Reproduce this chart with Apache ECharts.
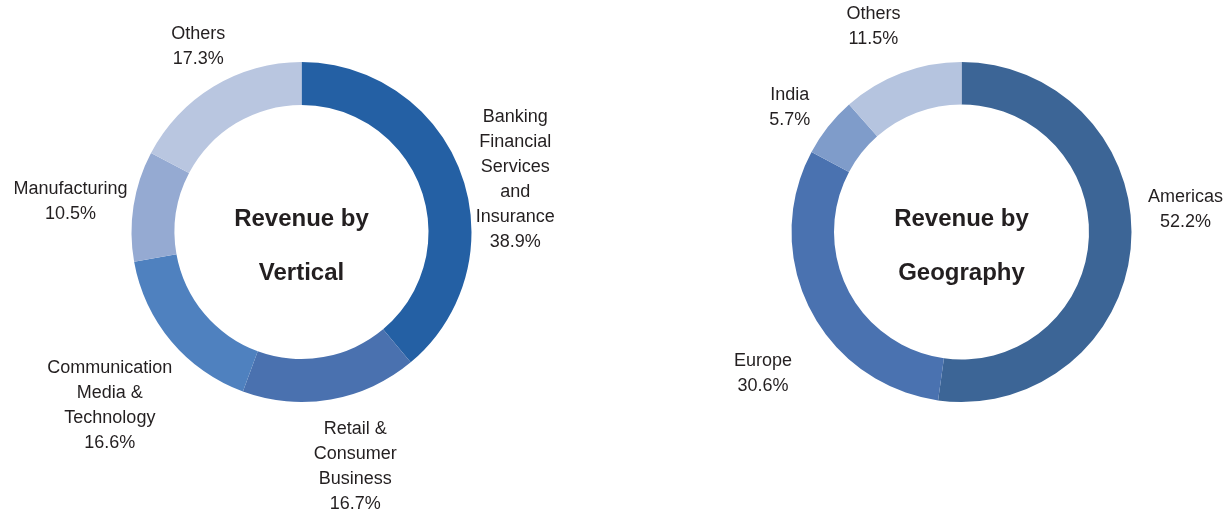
<!DOCTYPE html>
<html><head><meta charset="utf-8">
<script src="https://cdn.jsdelivr.net/npm/echarts@6/dist/echarts.min.js"></script>
<style>html,body{margin:0;padding:0;background:#fff}#c{width:1230px;height:513px}</style>
</head><body><div id="c"></div>
<script>
// ---- data ----
const verticalCategories = ['Banking\nFinancial\nServices\nand\nInsurance', 'Retail &\nConsumer\nBusiness', 'Communication\nMedia &\nTechnology', 'Manufacturing', 'Others'];
const verticalValues = [38.9, 16.7, 16.6, 10.5, 17.3];
const geographyCategories = ['Americas', 'Europe', 'India', 'Others'];
const geographyValues = [52.2, 30.6, 5.7, 11.5];
const centerTitles = ['Revenue by\nVertical', 'Revenue by\nGeography'];

// ---- styles ----
const verticalColors = ['#2460a4', '#4a71af', '#4f81bf', '#95aad2', '#b9c6e0'];
const geographyColors = ['#3c6596', '#4a72b0', '#7f9cca', '#b5c4df'];
const FONT = '"Liberation Sans", Arial, sans-serif';
const TEXT = '#231f20';
const pies = [
  { center: [301.5, 232], radius: [127, 170], gap: 10, nudge: [[5, 23.5], [14, 7], [6, 7.5], [4, 5.5], [5, -6.5]] },
  { center: [961.5, 232], radius: [127.5, 170], gap: 10, nudge: [[7, -37.5], [-9, 45], [-10, 3], [-15, -12.5]] }
];

function makeLayout(k) {
  const cfg = pies[k];
  return function (params) {
    const pts = params.labelLinePoints;
    if (!pts || !pts[0]) return {};
    const p = pts[0];
    const dx = p[0] - cfg.center[0], dy = p[1] - cfg.center[1];
    const len = Math.hypot(dx, dy) || 1;
    const ux = dx / len, uy = dy / len;
    const hw = params.labelRect.width / 2, hh = params.labelRect.height / 2;
    const ex = Math.abs(ux) > 1e-6 ? hw / Math.abs(ux) : Infinity;
    const ey = Math.abs(uy) > 1e-6 ? hh / Math.abs(uy) : Infinity;
    const ext = Math.min(ex, ey);
    const n = cfg.nudge[params.dataIndex] || [0, 0];
    return {
      x: p[0] + ux * (cfg.gap + ext) + n[0],
      y: p[1] + uy * (cfg.gap + ext) + n[1],
      align: 'center',
      verticalAlign: 'middle'
    };
  };
}

function makeSeries(k, cats, vals, colors) {
  return {
    type: 'pie',
    center: pies[k].center,
    radius: pies[k].radius,
    startAngle: 90,
    clockwise: true,
    avoidLabelOverlap: false,
    silent: true,
    data: cats.map((c, i) => ({ name: c, value: vals[i], itemStyle: { color: colors[i] } })),
    itemStyle: { borderWidth: 0 },
    label: {
      show: true,
      position: 'outside',
      formatter: '{b}\n{c}%',
      fontSize: 18,
      lineHeight: 25,
      color: TEXT,
      fontFamily: FONT,
      align: 'center'
    },
    labelLine: { show: true, length: 5, length2: 0, lineStyle: { opacity: 0, width: 0 } },
    labelLayout: makeLayout(k),
    emphasis: { disabled: true }
  };
}

const chart = echarts.init(document.getElementById('c'), null, { renderer: 'canvas' });
chart.setOption({
  animation: false,
  backgroundColor: '#ffffff',
  title: [0, 1].map(k => ({
    text: centerTitles[k],
    left: pies[k].center[0],
    top: 192,
    textAlign: 'center',
    padding: 0,
    textStyle: { fontSize: 24, fontWeight: 'bold', lineHeight: 54, color: TEXT, fontFamily: FONT }
  })),
  series: [
    makeSeries(0, verticalCategories, verticalValues, verticalColors),
    makeSeries(1, geographyCategories, geographyValues, geographyColors)
  ]
});
</script>
</body></html>
